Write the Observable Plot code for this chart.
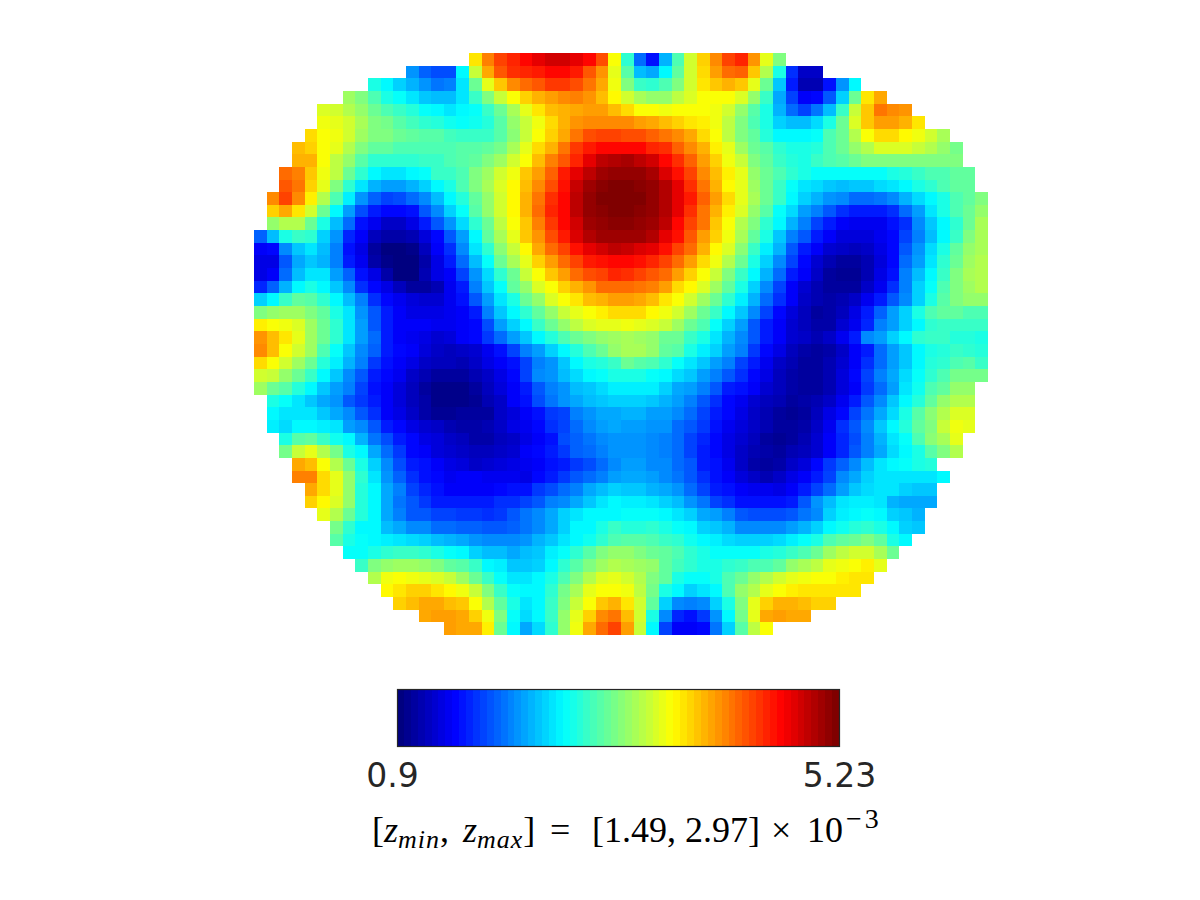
<!DOCTYPE html>
<html><head><meta charset="utf-8">
<script src="https://cdn.jsdelivr.net/npm/d3@7"></script>
<script src="https://cdn.jsdelivr.net/npm/@observablehq/plot@0.6"></script>
<style>
html,body{margin:0;padding:0;background:#fff;width:1200px;height:900px;overflow:hidden}
svg{display:block}
.f{position:absolute;top:810px;font-family:"Liberation Serif",serif;font-size:36px;color:#000;white-space:nowrap;line-height:40px}
.f sub{font-size:26px;vertical-align:-6px;line-height:0;letter-spacing:1px}
.f sup{font-size:28px;vertical-align:14px;line-height:0;letter-spacing:3px;margin-left:3px}
</style></head><body>
<div id="chart"></div>
<div class="f" style="left:372px">[<i>z<sub>min</sub></i><span style="margin-right:5px">,</span> <i>z<sub>max</sub></i>]</div>
<div class="f" style="left:550px">=</div>
<div class="f" style="left:592px">[1.49, 2.97]</div>
<div class="f" style="left:771px">×</div>
<div class="f" style="left:807px">10<sup>−3</sup></div>
<script>
const nCols = 58, nRows = 46;
const vMin = 0.9, vMax = 5.23;
const tickValues = [0.9, 5.23];
// first filled column of each row
const rowStart = [17,12,9,7,5,5,4,3,3,2,2,1,1,1,0,0,0,0,0,0,0,0,0,0,0,0,0,1,1,1,2,2,3,3,4,4,5,6,6,7,8,9,10,11,13,15];
// colormap position (percent) read from each cell
const rows = [
[65,75,81,84,87,90,92,92,90,87,80,62,42,23,14,30,45,58,67,74,81,84,73,60,50],
[27,22,20,20,37,57,71,79,83,84,85,87,87,85,79,73,60,46,31,29,37,47,58,66,72,77,78,68,55,40,17,7,7],
[40,37,33,30,27,24,25,35,48,60,68,74,77,79,82,82,80,76,71,61,50,43,42,45,50,58,65,68,70,68,60,48,32,15,5,5,14,27,37],
[53,50,45,40,38,35,32,31,31,35,43,50,57,62,67,70,72,74,75,73,69,63,58,54,52,52,56,59,62,62,62,59,52,43,29,19,12,13,21,33,48,65,71],
[59,58,55,52,48,45,43,41,38,37,35,37,38,43,48,54,60,65,69,70,71,72,72,69,66,62,62,61,62,62,62,61,58,52,46,40,30,23,19,24,31,43,57,68,76,74,73],
[61,60,58,54,50,49,46,44,42,41,39,38,39,41,46,52,57,61,66,70,73,74,74,74,74,72,71,69,67,65,64,61,56,50,45,40,33,31,31,34,40,48,59,68,72,72,70,65],
[66,62,61,58,53,50,50,48,47,46,46,44,43,43,43,46,51,57,62,67,71,76,80,81,81,80,80,78,76,74,71,66,62,56,50,47,41,37,37,37,38,45,48,55,62,66,66,63,61,58,54],
[69,67,62,60,55,50,47,47,45,45,45,45,45,46,46,47,49,54,60,66,70,76,82,85,87,87,87,87,84,83,78,74,70,64,60,53,48,46,42,40,40,41,45,48,52,55,59,59,59,57,55,52,49],
[70,70,62,56,52,46,42,42,42,42,43,43,45,46,47,50,53,58,62,69,75,79,84,90,94,95,96,94,92,87,83,78,72,67,61,57,50,47,43,41,40,43,45,46,48,50,50,50,50,50,50,50,50],
[77,75,68,61,56,48,42,37,35,35,37,38,43,43,45,50,53,58,61,68,72,78,85,90,94,97,98,98,98,96,91,86,81,74,69,64,60,52,48,45,42,40,38,38,38,38,38,38,40,41,43,45,45,47,47],
[79,76,67,60,50,42,35,30,28,28,30,33,37,40,45,50,54,59,63,69,74,80,86,93,97,99,100,100,99,98,95,90,83,76,70,63,60,53,48,43,38,35,34,32,31,32,32,34,35,37,40,42,45,47,47],
[74,81,74,64,55,45,36,27,22,19,20,23,26,31,37,41,47,52,58,63,70,76,83,87,94,98,100,100,100,100,98,95,90,85,78,72,66,60,54,48,43,37,33,30,27,26,23,23,24,26,30,34,37,40,45,47,50],
[67,71,65,58,48,37,28,20,15,13,13,14,21,26,33,38,46,52,58,63,70,77,84,87,94,98,99,100,100,99,98,95,90,83,76,70,64,59,52,46,38,34,28,25,21,17,15,15,15,17,23,28,35,40,45,48,52],
[52,55,55,48,40,31,23,14,11,7,7,10,15,21,27,34,42,48,56,62,68,75,82,87,92,97,98,99,99,98,97,94,87,81,76,68,62,55,50,42,37,30,25,19,15,12,11,11,11,14,17,26,32,37,42,48,54],
[22,31,40,43,42,33,27,16,12,6,4,4,5,9,13,21,28,37,47,54,60,68,73,80,85,91,95,97,97,97,97,95,90,86,79,72,67,61,54,47,40,32,25,21,15,12,9,9,9,11,13,19,25,31,37,43,50,54],
[12,13,26,32,35,31,25,14,10,3,0,0,1,6,12,17,26,35,42,51,57,63,71,77,81,86,90,92,94,93,91,90,86,81,77,70,63,59,51,43,36,30,21,15,12,8,7,6,7,10,13,21,27,34,40,47,52,54],
[10,10,21,29,32,30,25,15,11,4,1,0,0,4,10,15,23,31,38,48,54,60,67,72,77,81,85,86,87,87,86,84,81,77,72,66,61,55,48,40,33,26,19,13,8,5,3,3,5,9,13,23,28,35,42,48,53,55],
[10,12,23,31,35,35,28,22,14,10,4,0,0,5,10,12,19,27,34,42,48,57,62,68,72,77,80,81,84,83,81,79,77,72,67,62,57,50,43,37,30,23,15,12,7,3,2,2,5,10,14,25,31,37,43,50,54,55],
[16,22,30,37,40,37,32,26,17,13,10,6,3,3,5,11,15,25,32,38,47,52,59,62,67,70,73,77,77,77,76,75,72,66,63,59,53,47,40,33,26,19,12,8,5,3,3,3,7,11,17,25,33,38,45,50,53,55],
[33,37,43,47,46,42,37,31,25,17,13,11,9,8,8,11,14,21,28,35,40,48,52,59,62,65,69,70,72,72,71,69,65,62,58,53,48,42,36,30,23,17,12,7,5,4,5,7,11,15,21,26,33,40,46,50,52,52],
[50,52,53,53,50,47,40,35,27,21,15,12,10,10,10,11,12,15,25,32,37,42,47,52,57,60,62,64,66,66,66,63,61,58,53,48,43,37,32,26,19,13,9,6,3,4,6,10,15,22,28,33,40,45,47,47,45,45],
[64,62,61,59,53,48,42,35,28,21,15,12,12,12,11,11,12,13,20,28,33,37,43,48,52,56,59,60,60,61,60,59,57,53,48,45,38,33,28,21,15,12,8,6,4,4,8,11,16,25,28,33,37,42,43,43,43,43],
[73,69,65,60,53,48,42,35,28,23,15,12,11,10,8,9,12,13,18,23,28,32,37,41,45,48,50,52,53,54,53,52,48,48,43,40,35,30,26,21,15,12,8,7,5,7,11,15,26,28,33,37,42,43,43,41,41,40],
[74,69,62,58,53,45,38,32,26,22,15,13,12,9,7,6,7,8,11,14,19,25,28,33,37,41,45,48,52,54,54,52,47,46,40,36,33,28,25,18,13,10,6,4,3,4,7,12,15,23,28,32,37,40,41,43,42,41],
[66,62,58,53,48,41,36,30,25,18,14,12,10,7,6,6,5,7,10,12,14,19,25,27,32,37,40,41,43,48,46,45,42,38,35,32,28,25,19,15,11,7,5,3,3,5,8,12,17,23,28,32,37,41,42,45,46,43],
[58,57,52,48,43,37,32,26,21,15,13,11,7,5,3,3,3,5,7,10,13,19,26,27,31,34,37,38,40,40,40,38,37,34,32,28,25,21,17,13,10,6,4,3,3,5,9,13,19,25,29,34,38,42,45,49,49,49],
[53,48,46,41,37,32,28,25,19,14,12,9,6,3,1,1,1,3,6,9,12,15,21,25,27,31,32,34,36,36,36,36,33,29,28,25,21,15,14,12,8,6,4,3,3,5,9,12,18,23,28,35,39,45,47,52,52],
[40,38,35,32,29,27,21,18,15,12,9,6,4,1,1,1,2,5,7,12,14,20,24,27,29,31,32,33,33,33,32,30,28,25,21,17,13,11,8,6,5,3,4,5,7,11,15,21,26,32,37,41,47,52,55,55],
[37,35,35,35,32,29,26,21,17,12,10,7,4,2,2,3,3,3,7,9,12,14,18,19,25,27,29,29,30,30,28,28,26,23,19,15,13,10,7,5,3,2,3,6,10,13,19,24,29,34,40,46,51,55,59,59],
[36,34,37,37,36,35,28,26,21,15,13,10,8,7,5,4,4,5,7,10,11,13,17,19,23,26,28,29,28,28,27,27,23,21,18,14,11,9,7,5,3,3,4,7,11,17,21,26,32,37,41,47,50,57,61,60],
[40,46,47,43,39,37,30,24,20,15,13,10,9,7,6,4,4,6,7,10,12,14,20,22,24,26,27,27,27,26,25,23,19,16,13,10,8,6,3,2,3,5,8,12,16,20,25,30,35,38,45,51,54,60],
[49,57,60,55,49,40,37,29,23,18,13,12,9,8,7,6,6,7,8,12,13,15,18,22,23,25,27,27,27,26,25,23,19,15,13,10,7,5,4,3,5,6,8,12,16,21,25,29,34,37,40,46,50,55],
[71,69,62,55,48,40,33,26,20,15,14,12,10,9,7,8,9,10,11,12,14,15,18,20,23,26,28,28,26,26,23,21,15,14,11,7,4,3,4,7,9,13,18,22,26,31,35,37,38,40,41],
[75,75,66,60,52,42,35,27,22,17,14,13,11,12,12,11,11,11,10,13,15,18,21,23,25,28,29,29,28,26,24,21,17,14,12,9,7,5,7,10,12,15,19,26,29,33,35,35,35,35,35,37],
[71,66,60,52,41,37,29,25,19,16,14,12,12,12,12,13,14,14,18,20,23,25,29,31,33,32,32,30,29,27,23,19,15,14,12,11,11,10,12,15,19,23,28,32,34,35,35,33,32,32],
[67,63,59,52,41,37,29,24,21,18,15,15,15,15,15,17,17,19,21,25,26,29,32,35,37,36,36,35,33,31,27,24,19,17,14,14,14,14,15,21,27,31,35,36,36,35,30,29,29,29],
[60,55,48,41,37,29,25,21,21,19,19,18,18,17,18,21,24,26,29,33,35,37,37,37,38,38,38,37,35,33,29,28,25,21,20,20,20,21,24,26,33,36,37,38,37,33,32,30],
[49,42,37,37,31,29,26,26,23,23,22,22,21,21,22,24,26,29,33,37,37,40,43,41,41,42,40,38,37,33,32,30,26,26,26,26,28,30,33,37,39,41,42,40,37,33,32],
[46,40,38,37,36,35,34,33,31,30,29,27,26,26,26,27,30,32,35,37,39,42,45,46,46,45,43,42,39,37,36,34,33,33,33,34,36,38,40,45,47,48,50,47,40,37],
[38,38,40,42,43,43,42,40,38,37,33,31,31,29,31,32,36,38,42,46,50,52,52,50,48,47,45,42,40,38,38,38,38,40,41,43,45,48,53,56,58,58,54,48],
[43,50,52,53,53,52,50,47,46,43,37,36,32,32,33,37,42,46,50,53,55,54,53,52,47,44,42,40,40,42,43,45,45,47,52,54,56,60,61,62,64,60],
[55,61,62,61,60,59,57,53,48,43,38,35,35,37,40,45,50,55,59,60,58,55,50,47,40,38,38,40,45,48,52,55,58,60,61,62,62,64,65,65],
[63,65,67,67,65,63,61,57,50,43,38,37,37,42,49,54,60,62,62,61,56,49,40,37,33,35,37,45,52,55,60,62,64,65,65,65,65,65],
[67,69,71,71,69,68,62,55,47,40,35,37,43,50,57,62,68,70,65,58,47,33,26,25,26,33,40,50,60,67,70,70,69,67,67],
[71,72,72,71,67,61,50,38,34,37,43,52,60,67,74,76,69,58,40,26,16,14,18,27,37,49,60,71,72,71,71],
[72,71,71,64,48,37,29,34,42,52,61,71,77,81,72,57,37,19,12,12,13,24,33,46,56,62]
];
const jet = t => {
  const c = f => Math.round(255 * Math.max(0, Math.min(1, f)));
  return `rgb(${c(Math.min(4*t-1.5,-4*t+4.5))},${c(Math.min(4*t-0.5,-4*t+3.5))},${c(Math.min(4*t+0.5,-4*t+2.5))})`;
};
const toValue = p => vMin + (vMax - vMin) * p / 100;
const cells = rows.flatMap((vals, r) => vals.map((p, i) => ({col: rowStart[r] + i, row: r, v: toValue(p)})));
const colorOpts = {type: "linear", domain: [vMin, vMax], interpolate: jet};

const heat = Plot.plot({
  width: 1200, height: 660,
  marginLeft: 254, marginRight: 212, marginTop: 53, marginBottom: 25,
  x: {type: "band", domain: d3.range(nCols), padding: 0, round: false, axis: null},
  y: {type: "band", domain: d3.range(nRows), padding: 0, round: false, axis: null},
  color: colorOpts,
  marks: [Plot.cell(cells, {x: "col", y: "row", fill: "v", shapeRendering: "crispEdges"})]
});

const nLevels = 64;
const bands = d3.range(nLevels).map(i => ({
  x1: vMin + (vMax - vMin) * i / nLevels,
  x2: vMin + (vMax - vMin) * (i + 1) / nLevels,
  v: vMin + (vMax - vMin) * i / (nLevels - 1)
}));
const tickStyle = {tickFormat: d => String(d), tickSize: 0, tickPadding: 17, fontSize: 33, fill: "#262626", label: null};
const bar = Plot.plot({
  width: 1200, height: 240,
  marginLeft: 397, marginRight: 361, marginTop: 29, marginBottom: 154,
  x: {domain: [vMin, vMax]},
  y: {axis: null, domain: [0, 1]},
  color: colorOpts,
  style: {fontFamily: "DejaVu Sans", background: "white"},
  marks: [
    Plot.rect(bands, {x1: "x1", x2: "x2", y1: 0, y2: 1, fill: "v", shapeRendering: "crispEdges"}),
    Plot.frame({stroke: "#262626", strokeWidth: 1.2}),
    Plot.axisX({...tickStyle, ticks: [tickValues[0]], dx: -5}),
    Plot.axisX({...tickStyle, ticks: [tickValues[1]]})
  ]
});
document.getElementById("chart").append(heat, bar);
</script>
</body></html>
